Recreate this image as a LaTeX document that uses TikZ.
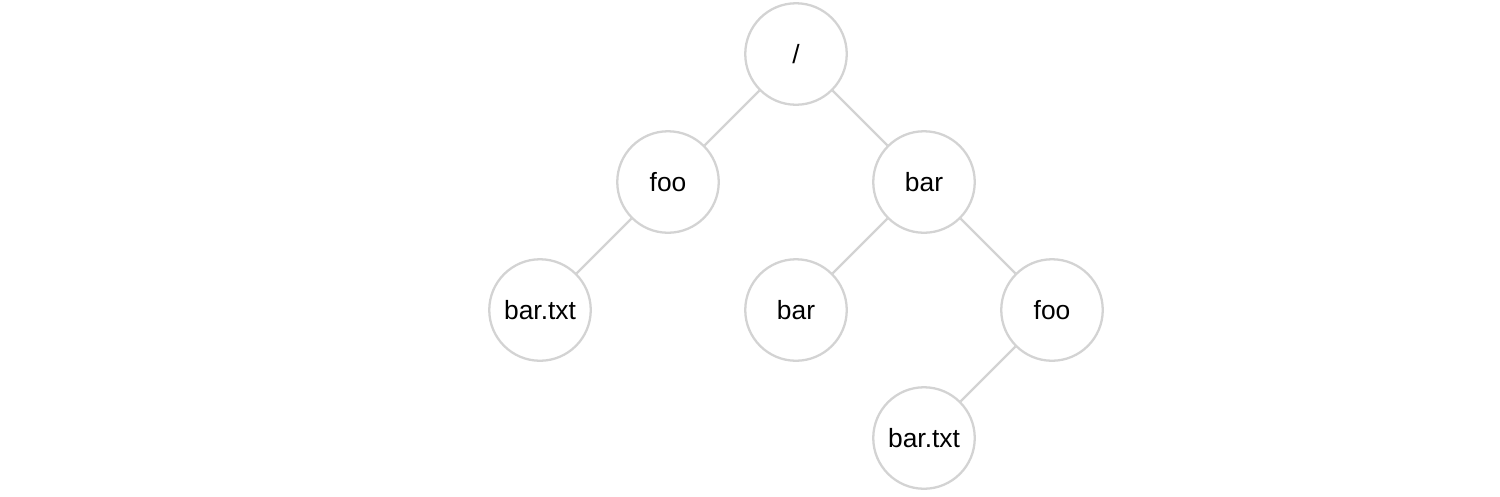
\documentclass[tikz,border=0pt]{standalone}
\usepackage{fontspec}
\setmainfont{Liberation Sans}
\usepackage{tikz}
\usetikzlibrary{positioning}
\definecolor{edgegray}{HTML}{D3D3D3}

\begin{document}
\begin{tikzpicture}[
    font=\fontsize{15}{17}\selectfont,
    on grid,
    node distance=2.56cm and 2.56cm,
    dir/.style={circle, draw=edgegray, line width=1.3pt, minimum size=2.03cm, inner sep=0pt, align=center},
    link/.style={draw=edgegray, line width=1.3pt}
]
\useasboundingbox (0,0) rectangle (30,-9.92);
\node[dir] (root) at (15.92,-1.08) {/};
\node[dir, below left=of root] (foo) {foo};
\node[dir, below right=of root] (bar) {bar};
\node[dir, below left=of foo] (footxt) {bar.txt};
\node[dir, below left=of bar] (barbar) {bar};
\node[dir, below right=of bar] (barfoo) {foo};
\node[dir, below left=of barfoo] (barfootxt) {bar.txt};

\draw[link] (root) -- (foo);
\draw[link] (root) -- (bar);
\draw[link] (foo) -- (footxt);
\draw[link] (bar) -- (barbar);
\draw[link] (bar) -- (barfoo);
\draw[link] (barfoo) -- (barfootxt);
\end{tikzpicture}
\end{document}
